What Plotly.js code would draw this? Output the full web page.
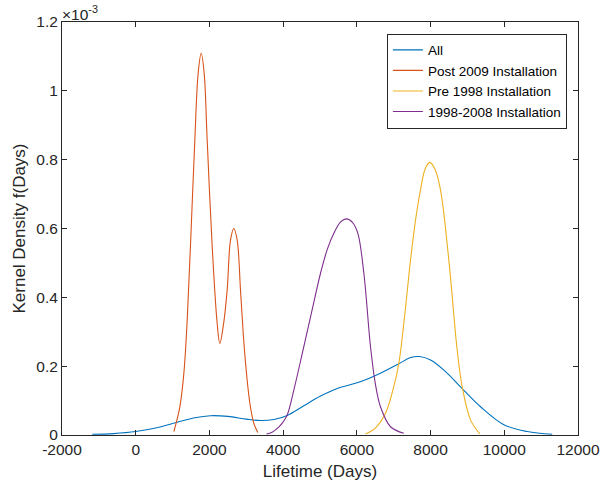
<!DOCTYPE html>
<html>
<head>
<meta charset="utf-8">
<script src="https://cdn.plot.ly/plotly-3.0.1.min.js"></script>
<style>html,body{margin:0;padding:0;background:#fff;}#chart{width:604px;height:489px;}</style>
</head>
<body>
<div id="chart"></div>
<script>
// Values (density in units of 1e-3)
const allX = [-1180,-600,0,600,1125,1600,2029,2500,3000,3386,3750,4110,4561,5014,5467,6053,6552,7139,7456,7700,8000,8400,8812,9355,9987,10622,11300];
const allY = [0.002,0.004,0.010,0.022,0.037,0.050,0.056,0.054,0.046,0.042,0.045,0.057,0.085,0.113,0.135,0.153,0.175,0.207,0.225,0.228,0.218,0.185,0.140,0.082,0.030,0.010,0.002];

const postX = [1035,1197,1306,1400,1486,1604,1694,1776,1857,1939,2074,2210,2282,2380,2481,2572,2662,2753,2843,2920,3006,3100,3205,3313];
const postY = [0.010,0.082,0.179,0.340,0.550,0.857,1.051,1.109,1.051,0.857,0.550,0.324,0.266,0.320,0.421,0.566,0.600,0.566,0.421,0.290,0.179,0.090,0.034,0.007];

const preX = [6235,6500,6777,7000,7139,7300,7456,7600,7727,7850,7979,8120,8269,8495,8722,8858,9084,9336];
const preY = [0.003,0.020,0.063,0.140,0.208,0.350,0.508,0.630,0.712,0.772,0.792,0.772,0.712,0.508,0.247,0.140,0.044,0.003];

const midX = [3548,3700,3900,4000,4110,4300,4561,4800,5014,5200,5375,5550,5719,5880,6027,6190,6370,6500,6641,6913,7274];
const midY = [0.003,0.008,0.025,0.038,0.058,0.135,0.257,0.370,0.470,0.540,0.586,0.618,0.628,0.618,0.586,0.470,0.257,0.150,0.082,0.024,0.005];

const names = ['All','Post 2009 Installation','Pre 1998 Installation','1998-2008 Installation'];
const colors = ['#0072BD','#D95319','#EDB120','#7E2F8E'];

const xTicks = [-2000,0,2000,4000,6000,8000,10000,12000];
const xTickText = ['-2000','0','2000','4000','6000','8000','10000','12000'];
const yTicks = [0,0.2,0.4,0.6,0.8,1.0,1.2];
const yTickText = ['0','0.2','0.4','0.6','0.8','1','1.2'];

const series = [[allX,allY],[postX,postY],[preX,preY],[midX,midY]];
const traces = series.map((s,i)=>({
  x: s[0], y: s[1], name: names[i], type:'scatter', mode:'lines',
  line:{color:colors[i], width:1.1, shape:'spline', smoothing:1}
}));

const FONT = 'Liberation Sans, Arial, sans-serif';
const axisCommon = {
  showgrid:false, zeroline:false, showline:true, linecolor:'#262626', linewidth:1,
  ticks:'inside', ticklen:5, tickcolor:'#262626', mirror:'ticks',
  tickfont:{family:FONT, size:15.5, color:'#262626'}
};

const layout = {
  width:604, height:489,
  margin:{l:62, r:26, t:22, b:54},
  paper_bgcolor:'#fff', plot_bgcolor:'#fff',
  showlegend:true,
  legend:{x:0.9785, y:0.972, xanchor:'right', yanchor:'top', bgcolor:'#fff',
    bordercolor:'#262626', borderwidth:1,
    font:{family:FONT, size:13.5, color:'#000'},
    tracegroupgap:0},
  xaxis: Object.assign({}, axisCommon, {range:[-2000,12000], tickvals:xTicks, ticktext:xTickText,
    title:{text:'Lifetime (Days)', standoff:8, font:{family:FONT, size:17, color:'#262626'}}}),
  yaxis: Object.assign({}, axisCommon, {range:[0,1.2], tickvals:yTicks, ticktext:yTickText,
    title:{text:'Kernel Density f(Days)', standoff:6, font:{family:FONT, size:17, color:'#262626'}}}),
  annotations:[{xref:'paper', yref:'paper', x:0, y:1, xanchor:'left', yanchor:'bottom',
    text:'×10<sup>-3</sup>', showarrow:false, xshift:-2, yshift:-3,
    font:{family:FONT, size:15.5, color:'#262626'}}]
};

Plotly.newPlot('chart', traces, layout, {displayModeBar:false, staticPlot:true});
</script>
</body>
</html>
